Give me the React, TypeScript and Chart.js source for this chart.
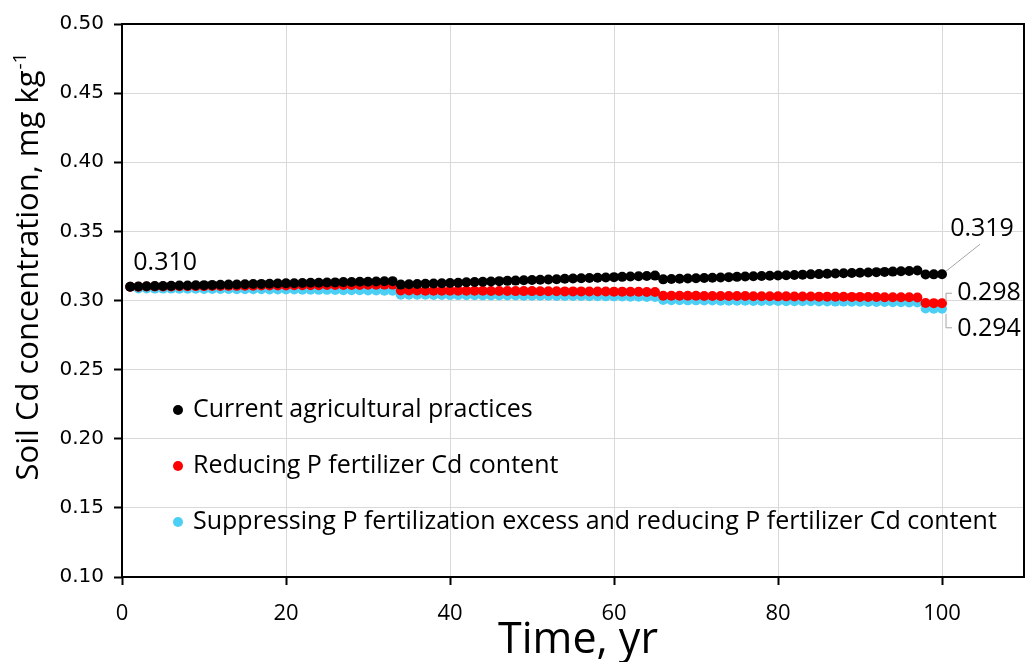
import React, { useEffect, useRef } from "react";
import { Chart, registerables } from "chart.js";

Chart.register(...registerables);

// Simulation years (annual steps)
const years: number[] = Array.from({ length: 100 }, (_, i) => i + 1);

// Soil Cd concentration (mg kg-1) under three management scenarios
const currentPractice: number[] = [
  0.3100, 0.3101, 0.3103, 0.3104, 0.3105, 0.3106, 0.3108, 0.3109, 0.3110, 0.3111,
  0.3113, 0.3114, 0.3115, 0.3116, 0.3118, 0.3119, 0.3120, 0.3121, 0.3123, 0.3124,
  0.3125, 0.3126, 0.3128, 0.3129, 0.3130, 0.3131, 0.3133, 0.3134, 0.3135, 0.3136,
  0.3138, 0.3139, 0.3140,
  0.3115, 0.3117, 0.3119, 0.3121, 0.3123, 0.3125, 0.3127, 0.3129, 0.3132, 0.3134,
  0.3136, 0.3138, 0.3140, 0.3142, 0.3144, 0.3146, 0.3148, 0.3150, 0.3152, 0.3154,
  0.3157, 0.3159, 0.3161, 0.3163, 0.3165, 0.3167, 0.3169, 0.3171, 0.3173, 0.3175,
  0.3177, 0.3180,
  0.3153, 0.3155, 0.3157, 0.3159, 0.3161, 0.3163, 0.3165, 0.3167, 0.3169, 0.3171,
  0.3173, 0.3175, 0.3177, 0.3179, 0.3181, 0.3183, 0.3185, 0.3187, 0.3189, 0.3191,
  0.3193, 0.3195, 0.3197, 0.3199, 0.3201, 0.3203, 0.3205, 0.3207, 0.3209, 0.3211,
  0.3214, 0.3217,
  0.3188, 0.3189, 0.3190,
];

const reducedCdContent: number[] = [
  0.3100, 0.3100, 0.3101, 0.3101, 0.3102, 0.3102, 0.3103, 0.3103, 0.3104, 0.3104,
  0.3105, 0.3105, 0.3106, 0.3106, 0.3107, 0.3107, 0.3108, 0.3108, 0.3109, 0.3109,
  0.3110, 0.3110, 0.3111, 0.3111, 0.3112, 0.3112, 0.3113, 0.3113, 0.3113, 0.3114,
  0.3114, 0.3115, 0.3115,
  0.3072, 0.3072, 0.3072, 0.3071, 0.3071, 0.3071, 0.3071, 0.3070, 0.3070, 0.3070,
  0.3070, 0.3069, 0.3069, 0.3069, 0.3068, 0.3068, 0.3068, 0.3067, 0.3067, 0.3067,
  0.3066, 0.3066, 0.3066, 0.3065, 0.3065, 0.3065, 0.3064, 0.3064, 0.3063, 0.3063,
  0.3062, 0.3062,
  0.3035, 0.3035, 0.3034, 0.3034, 0.3034, 0.3033, 0.3033, 0.3033, 0.3032, 0.3032,
  0.3032, 0.3031, 0.3031, 0.3031, 0.3030, 0.3030, 0.3029, 0.3029, 0.3029, 0.3028,
  0.3028, 0.3027, 0.3027, 0.3026, 0.3026, 0.3025, 0.3025, 0.3024, 0.3024, 0.3023,
  0.3023, 0.3022,
  0.2982, 0.2981, 0.2980,
];

const suppressedExcess: number[] = [
  0.3100, 0.3087, 0.3087, 0.3086, 0.3086, 0.3086, 0.3085, 0.3085, 0.3085, 0.3084,
  0.3084, 0.3083, 0.3083, 0.3082, 0.3082, 0.3081, 0.3081, 0.3080, 0.3080, 0.3079,
  0.3079, 0.3078, 0.3078, 0.3077, 0.3077, 0.3076, 0.3075, 0.3075, 0.3074, 0.3073,
  0.3072, 0.3071, 0.3070,
  0.3042, 0.3042, 0.3041, 0.3041, 0.3040, 0.3040, 0.3039, 0.3039, 0.3038, 0.3038,
  0.3037, 0.3037, 0.3037, 0.3036, 0.3036, 0.3035, 0.3035, 0.3034, 0.3034, 0.3033,
  0.3033, 0.3032, 0.3032, 0.3031, 0.3031, 0.3030, 0.3030, 0.3029, 0.3028, 0.3027,
  0.3026, 0.3025,
  0.3003, 0.3002, 0.3002, 0.3001, 0.3001, 0.3000, 0.3000, 0.2999, 0.2999, 0.2998,
  0.2998, 0.2997, 0.2997, 0.2996, 0.2996, 0.2995, 0.2995, 0.2994, 0.2994, 0.2993,
  0.2993, 0.2992, 0.2992, 0.2991, 0.2991, 0.2990, 0.2989, 0.2989, 0.2988, 0.2987,
  0.2986, 0.2985,
  0.2942, 0.2941, 0.2940,
];

const seriesNames: string[] = [
  "Current agricultural practices",
  "Reducing P fertilizer Cd content",
  "Suppressing P fertilization excess and reducing P fertilizer Cd content",
];
const seriesColors: string[] = ["#000000", "#ff0000", "#4ccff5"];

const yTickValues: number[] = [0.1, 0.15, 0.2, 0.25, 0.3, 0.35, 0.4, 0.45, 0.5];
const xTickValues: number[] = [0, 20, 40, 60, 80, 100];

const yTitle = "Soil Cd concentration, mg kg";
const yTitleSup = "-1";
const xTitle = "Time, yr";

const TEXT_FONT = '"Open Sans", "DejaVu Sans", sans-serif';

// Frame around the plotting area
const framePlugin = {
  id: "frame",
  beforeDatasetsDraw(chart: any) {
    const { ctx, chartArea: a } = chart;
    ctx.save();
    ctx.strokeStyle = "#000";
    ctx.lineWidth = 2;
    ctx.strokeRect(a.left, a.top, a.right - a.left, a.bottom - a.top);
    ctx.restore();
  },
};

// Axis titles (y title carries a superscript unit)
const titlesPlugin = {
  id: "titles",
  afterDraw(chart: any) {
    const { ctx, chartArea: a } = chart;
    ctx.save();
    ctx.fillStyle = "#000";
    // x title
    ctx.font = `43px ${TEXT_FONT}`;
    ctx.textAlign = "center";
    ctx.textBaseline = "alphabetic";
    ctx.fillText(xTitle, (a.left + a.right) / 2 + 5, 653);
    // y title
    ctx.translate(38, 267);
    ctx.rotate(-Math.PI / 2);
    const mainFont = `31px ${TEXT_FONT}`;
    const supFont = `19px ${TEXT_FONT}`;
    ctx.font = mainFont;
    const w1 = ctx.measureText(yTitle).width;
    ctx.font = supFont;
    const w2 = ctx.measureText(yTitleSup).width;
    const start = -(w1 + w2) / 2;
    ctx.textAlign = "left";
    ctx.font = mainFont;
    ctx.fillText(yTitle, start, 0);
    ctx.font = supFont;
    ctx.fillText(yTitleSup, start + w1 + 1, -12);
    ctx.restore();
  },
};

// Legend drawn inside the plotting area, lower left
const legendPlugin = {
  id: "insideLegend",
  afterDraw(chart: any) {
    const { ctx } = chart;
    ctx.save();
    ctx.font = `25px ${TEXT_FONT}`;
    ctx.textBaseline = "middle";
    ctx.textAlign = "left";
    chart.data.datasets.forEach((ds: any, i: number) => {
      const y = 410 + i * 56;
      ctx.fillStyle = ds.backgroundColor;
      ctx.beginPath();
      ctx.arc(178, y, 5, 0, Math.PI * 2);
      ctx.fill();
      ctx.fillStyle = "#000";
      ctx.fillText(ds.label, 193, y);
    });
    ctx.restore();
  },
};

// Value labels at the first and last years, with leader lines
const valueLabelPlugin = {
  id: "valueLabels",
  afterDatasetsDraw(chart: any) {
    const { ctx } = chart;
    const xs = chart.scales.x;
    const ys = chart.scales.y;
    ctx.save();
    ctx.font = `25px ${TEXT_FONT}`;
    ctx.fillStyle = "#000";
    ctx.textBaseline = "middle";
    ctx.textAlign = "center";
    ctx.strokeStyle = "#a6a6a6";
    ctx.lineWidth = 1;

    // start value
    const v0 = suppressedExcess[0];
    const px0 = xs.getPixelForValue(years[0]);
    const py0 = ys.getPixelForValue(v0);
    ctx.fillText(v0.toFixed(3), px0 + 35, py0 - 24);

    const last = years.length - 1;
    const pxL = xs.getPixelForValue(years[last]);

    // current practice end value
    const vb = currentPractice[last];
    const pyb = ys.getPixelForValue(vb);
    ctx.beginPath();
    ctx.moveTo(pxL + 4, pyb - 3);
    ctx.lineTo(pxL + 38, pyb - 30);
    ctx.stroke();
    ctx.fillText(vb.toFixed(3), pxL + 40, pyb - 45);

    // reduced Cd content end value
    const vr = reducedCdContent[last];
    const pyr = ys.getPixelForValue(vr);
    ctx.beginPath();
    ctx.moveTo(pxL + 4, pyr - 2);
    ctx.lineTo(pxL + 4, pyr - 10);
    ctx.lineTo(pxL + 10, pyr - 10);
    ctx.stroke();
    ctx.fillText(vr.toFixed(3), pxL + 47, pyr - 10);

    // suppressed excess end value
    const vc = suppressedExcess[last];
    const pyc = ys.getPixelForValue(vc);
    ctx.beginPath();
    ctx.moveTo(pxL + 4, pyc + 5);
    ctx.lineTo(pxL + 4, pyc + 19);
    ctx.lineTo(pxL + 10, pyc + 19);
    ctx.stroke();
    ctx.fillText(vc.toFixed(3), pxL + 47, pyc + 20);

    ctx.restore();
  },
};

export default function App() {
  const canvasRef = useRef<HTMLCanvasElement | null>(null);

  useEffect(() => {
    if (!canvasRef.current) return;
    const series = [currentPractice, reducedCdContent, suppressedExcess];
    const chart = new Chart(canvasRef.current, {
      type: "scatter",
      data: {
        datasets: series.map((vals, i) => ({
          label: seriesNames[i],
          data: years.map((t, k) => ({ x: t, y: vals[k] })),
          backgroundColor: seriesColors[i],
          borderColor: seriesColors[i],
          pointRadius: 5,
          pointBorderWidth: 0,
          showLine: false,
        })),
      },
      options: {
        responsive: true,
        maintainAspectRatio: false,
        animation: false,
        layout: { padding: { top: 24, right: 2, left: 0, bottom: 0 } },
        plugins: {
          legend: { display: false },
          tooltip: { enabled: false },
        },
        scales: {
          x: {
            type: "linear",
            min: 0,
            max: 110,
            afterFit(scale: any) {
              scale.height = 85;
            },
            afterBuildTicks(scale: any) {
              scale.ticks = xTickValues.map((v) => ({ value: v }));
            },
            border: { display: false },
            grid: {
              color: "#d9d9d9",
              lineWidth: 1,
              tickColor: "#000",
              tickLength: 8,
              tickWidth: 2,
            },
            ticks: {
              color: "#000",
              padding: 16,
              font: { family: TEXT_FONT, size: 22 },
              callback: (v: any) => String(v),
            },
          },
          y: {
            type: "linear",
            min: 0.1,
            max: 0.5,
            afterFit(scale: any) {
              scale.width = 122;
            },
            afterBuildTicks(scale: any) {
              scale.ticks = yTickValues.map((v) => ({ value: v }));
            },
            border: { display: false },
            grid: {
              color: "#d9d9d9",
              lineWidth: 1,
              tickColor: "#000",
              tickLength: 8,
              tickWidth: 2,
            },
            ticks: {
              color: "#000",
              padding: 10,
              font: { family: '"DejaVu Sans", sans-serif', size: 20 },
              callback: (v: any) => Number(v).toFixed(2),
            },
          },
        },
      },
      plugins: [framePlugin, titlesPlugin, legendPlugin, valueLabelPlugin],
    } as any);
    return () => chart.destroy();
  }, []);

  return (
    <div style={{ position: "fixed", left: 0, top: 0, width: 1029, height: 662, background: "#fff" }}>
      <canvas ref={canvasRef} />
    </div>
  );
}
